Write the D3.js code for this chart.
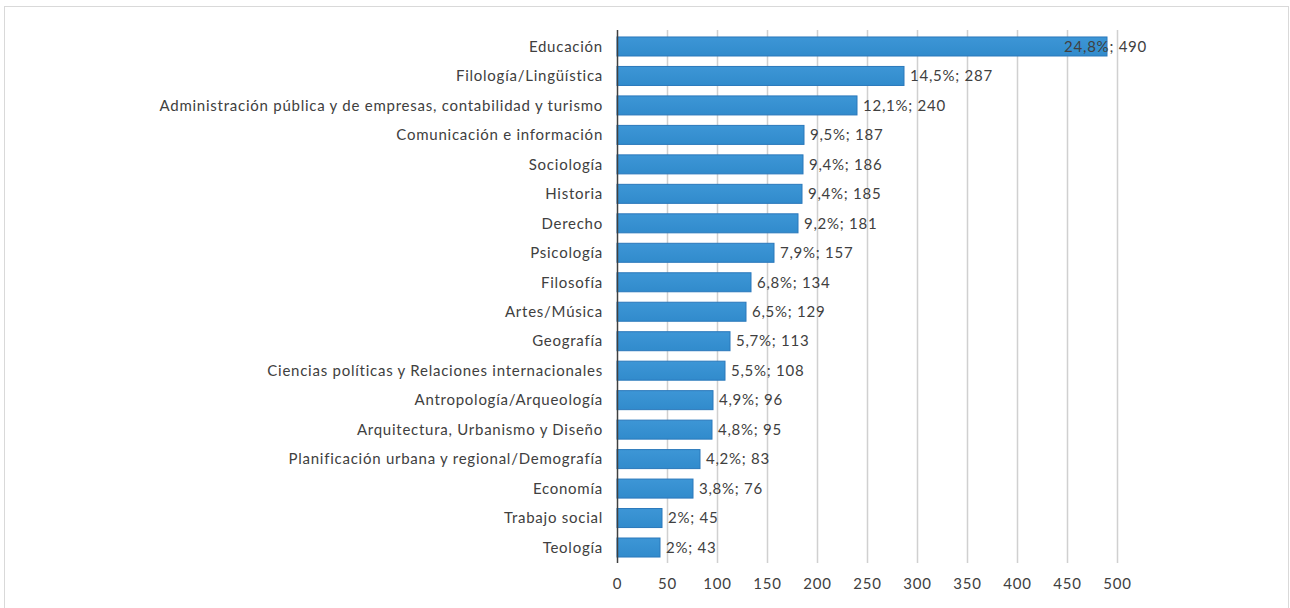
<!DOCTYPE html>
<html>
<head>
<meta charset="utf-8">
<script src="https://cdn.jsdelivr.net/npm/d3@7"></script>
<style>
  body { margin: 0; background: #fff; }
  text { font-family: Lato, sans-serif; fill: #404040; letter-spacing: 0.75px; }
</style>
</head>
<body>
<div id="chart"></div>
<script>
// data
var categories = ["Educación", "Filología/Lingüística",
  "Administración pública y de empresas, contabilidad y turismo",
  "Comunicación e información", "Sociología", "Historia", "Derecho",
  "Psicología", "Filosofía", "Artes/Música", "Geografía",
  "Ciencias políticas y Relaciones internacionales", "Antropología/Arqueología",
  "Arquitectura, Urbanismo y Diseño", "Planificación urbana y regional/Demografía",
  "Economía", "Trabajo social", "Teología"];
var counts = [490, 287, 240, 187, 186, 185, 181, 157, 134, 129, 113, 108, 96, 95, 83, 76, 45, 43];
var percents = ["24,8%", "14,5%", "12,1%", "9,5%", "9,4%", "9,4%", "9,2%", "7,9%", "6,8%",
  "6,5%", "5,7%", "5,5%", "4,9%", "4,8%", "4,2%", "3,8%", "2%", "2%"];
var ticks = [0, 50, 100, 150, 200, 250, 300, 350, 400, 450, 500];

var W = 1290, H = 608;
var margin = { top: 30, left: 617, right: 173, bottom: 45 };
var plotBottom = H - margin.bottom;

var svg = d3.select("#chart").append("svg")
  .attr("width", W)
  .attr("height", H);

// outer frame
svg.append("rect")
  .attr("x", 4.5).attr("y", 6.5)
  .attr("width", 1284).attr("height", 620)
  .attr("fill", "none")
  .attr("stroke", "#d9d9d9");

var x = d3.scaleLinear()
  .domain([0, 500])
  .range([margin.left, W - margin.right]);

var y = d3.scaleBand()
  .domain(categories)
  .range([margin.top, plotBottom])
  .paddingInner(0.355)
  .paddingOuter(0.22);

// gridlines
svg.append("g").selectAll("line")
  .data(ticks.slice(1))
  .enter().append("line")
  .attr("x1", d => x(d) + 0.5).attr("x2", d => x(d) + 0.5)
  .attr("y1", margin.top).attr("y2", plotBottom)
  .attr("stroke", "#d0d0d0")
  .attr("stroke-width", 1.5);

// tick labels
var xAxis = svg.append("g")
  .attr("transform", "translate(0," + plotBottom + ")")
  .call(d3.axisBottom(x).tickValues(ticks).tickSize(0).tickPadding(15));
xAxis.select(".domain").remove();
xAxis.selectAll("text")
  .style("font-family", "Lato, sans-serif")
  .style("font-size", "15px")
  .attr("fill", "#404040");

// bars
var defs = svg.append("defs");
var grad = defs.append("linearGradient")
  .attr("id", "barGrad")
  .attr("x1", 0).attr("y1", 0).attr("x2", 0).attr("y2", 1);
grad.append("stop").attr("offset", "0%").attr("stop-color", "#3d96d6");
grad.append("stop").attr("offset", "100%").attr("stop-color", "#318bcc");

svg.append("g").selectAll("rect")
  .data(counts)
  .enter().append("rect")
  .attr("x", x(0))
  .attr("y", (d, i) => y(categories[i]) + 0.5)
  .attr("width", d => x(d) - x(0))
  .attr("height", y.bandwidth())
  .attr("fill", "url(#barGrad)")
  .attr("stroke", "#2a78bb")
  .attr("stroke-width", 1);

// value axis line
svg.append("line")
  .attr("x1", x(0) + 0.5).attr("x2", x(0) + 0.5)
  .attr("y1", margin.top).attr("y2", plotBottom)
  .attr("stroke", "#404040")
  .attr("stroke-width", 1.5);

// category labels
svg.append("g").selectAll("text")
  .data(categories)
  .enter().append("text")
  .attr("x", x(0) - 14)
  .attr("y", d => y(d) + y.bandwidth() / 2 + 0.5)
  .attr("dy", "0.35em")
  .attr("text-anchor", "end")
  .style("font-size", "15px")
  .text(d => d);

// data labels
var maxRight = x(500) + 30;
svg.append("g").selectAll("text")
  .data(counts)
  .enter().append("text")
  .attr("y", (d, i) => y(categories[i]) + y.bandwidth() / 2 + 0.5)
  .attr("dy", "0.35em")
  .style("font-size", "15px")
  .text((d, i) => percents[i] + "; " + d)
  .attr("x", function(d) {
    var w = this.getComputedTextLength();
    return Math.min(x(d) + 6, maxRight - w);
  });
</script>
</body>
</html>
